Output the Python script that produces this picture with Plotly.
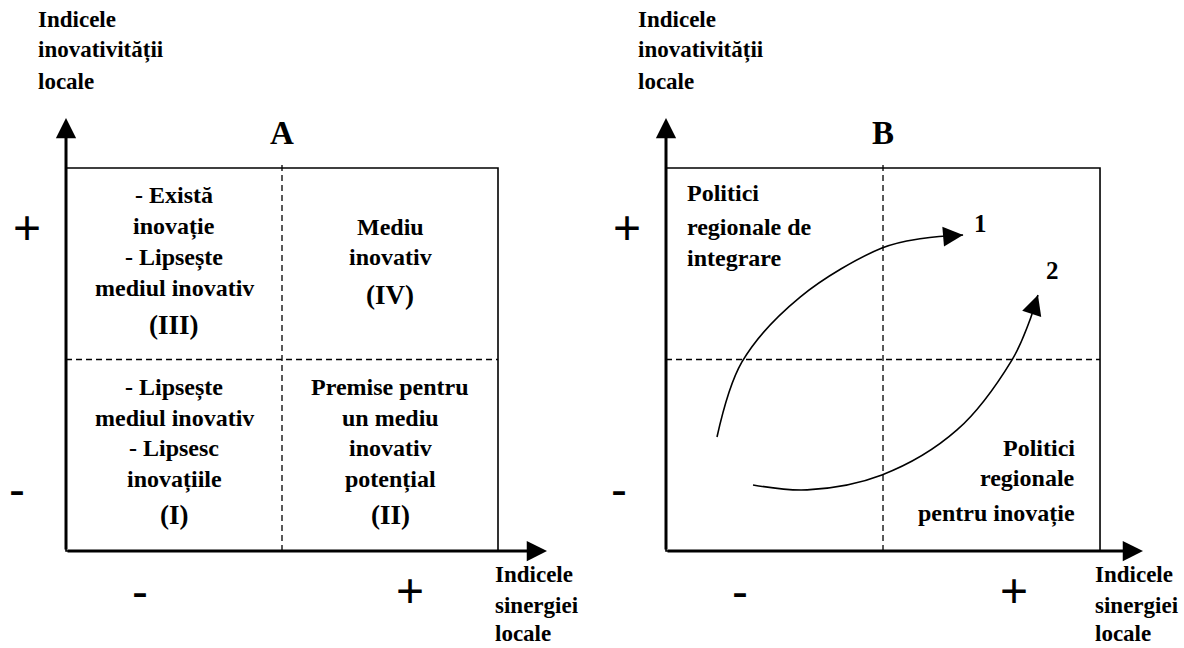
import plotly.graph_objects as go

# ---------------- data ----------------
panel_titles = ["A", "B"]
y_axis_title = ["Indicele", "inovativității", "locale"]
x_axis_title = ["Indicele", "sinergiei", "locale"]
y_signs = ["+", "-"]
x_signs = ["-", "+"]
quad_III = ["- Există", "inovație", "- Lipsește", "mediul inovativ", "(III)"]
quad_IV = ["Mediu", "inovativ", "(IV)"]
quad_I = ["- Lipsește", "mediul inovativ", "- Lipsesc", "inovațiile", "(I)"]
quad_II = ["Premise pentru", "un mediu", "inovativ", "potențial", "(II)"]
policy_integration = ["Politici", "regionale de", "integrare"]
policy_innovation = ["Politici", "regionale", "pentru inovație"]
path_labels = ["1", "2"]
# trajectories in panel B (quadrant units, box = 0..2)
path1_x = [0.235, 0.350, 0.618, 0.995, 1.180, 1.369]
path1_y = [0.595, 0.987, 1.326, 1.582, 1.632, 1.650]
path2_x = [0.401, 0.650, 0.995, 1.341, 1.594, 1.670, 1.714]
path2_y = [0.345, 0.319, 0.397, 0.632, 0.997, 1.185, 1.337]

# ---------------- layout constants ----------------
FONT = "Liberation Serif, Times New Roman, serif"
SIGN_FONT = "Liberation Sans, Arial, sans-serif"
XA = ("x", "y")
XB = ("x2", "y2")

fig = go.Figure()

# invisible anchors so both subplots exist
for xr, yr in (XA, XB):
    fig.add_trace(go.Scatter(x=[0, 2], y=[0, 2], mode="markers", marker=dict(opacity=0),
                             xaxis=xr, yaxis=yr, hoverinfo="skip", showlegend=False))

def txt(refs, x, y, text, size, xanchor="center", bold=True, family=FONT):
    fig.add_annotation(x=x, y=y, xref=refs[0], yref=refs[1], text=text, showarrow=False,
                       xanchor=xanchor, yanchor="middle",
                       font=dict(family=family, size=size, color="black",
                                 weight="bold" if bold else "normal"))

def arrow(refs, tail, tip, width, size, head=2):
    fig.add_annotation(x=tip[0], y=tip[1], ax=tail[0], ay=tail[1],
                       xref=refs[0], yref=refs[1], axref=refs[0], ayref=refs[1],
                       text="", showarrow=True, arrowhead=head, arrowsize=size,
                       arrowwidth=width, arrowcolor="black", standoff=0, startstandoff=0)

for refs, xtip, title, ytitle_x, xtitle_x in ((XA, 2.227, panel_titles[0], -0.139, 1.977),
                                              (XB, 2.198, panel_titles[1], -0.138, 1.968)):
    # frame
    fig.add_shape(type="rect", x0=0, y0=0, x1=2, y1=2, xref=refs[0], yref=refs[1],
                  line=dict(color="black", width=1.6))
    # dashed quadrant dividers
    fig.add_shape(type="line", x0=1, y0=0, x1=1, y1=2.03, xref=refs[0], yref=refs[1],
                  line=dict(color="black", width=1.3, dash="6px,4px"))
    fig.add_shape(type="line", x0=0, y0=1, x1=2, y1=1, xref=refs[0], yref=refs[1],
                  line=dict(color="black", width=1.3, dash="6px,4px"))
    # axes with arrows
    arrow(refs, (0, 0), (0, 2.261), 3, 1.35, head=2)
    arrow(refs, (0, 0), (xtip, 0), 3, 1.35, head=2)
    # panel title
    txt(refs, 1.0, 2.183, title, 33)
    # axis titles
    for t, yy in zip(y_axis_title, [2.773, 2.616, 2.449]):
        txt(refs, ytitle_x, yy, t, 23, xanchor="left")
    for t, yy in zip(x_axis_title, [-0.125, -0.282, -0.432]):
        txt(refs, xtitle_x, yy, t, 23, xanchor="left")
    # signs
    sx = -0.181 if refs == XA else -0.180
    sxm = -0.227 if refs == XA else -0.217
    txt(refs, sx, 1.687, y_signs[0], 48, bold=False, family=SIGN_FONT)
    txt(refs, sxm, 0.319, y_signs[1], 48, bold=False, family=SIGN_FONT)
    bx = (0.343, 1.593) if refs == XA else (0.341, 1.604)
    txt(refs, bx[0], -0.214, x_signs[0], 48, bold=False, family=SIGN_FONT)
    txt(refs, bx[1], -0.204, x_signs[1], 48, bold=False, family=SIGN_FONT)

# ---- panel A quadrant texts ----
def block(refs, lines, x, ys, xanchor="center", last_size=None, size=24):
    for i, (t, yy) in enumerate(zip(lines, ys)):
        s = last_size if (last_size and i == len(lines) - 1) else size
        txt(refs, x, yy, t, s, xanchor=xanchor)

block(XA, quad_III, 0.5, [1.859, 1.692, 1.535, 1.373, 1.180], last_size=27)
block(XA, quad_IV, 1.5, [1.692, 1.535, 1.337], last_size=27)
block(XA, quad_I, 0.5, [0.856, 0.695, 0.538, 0.371, 0.188], last_size=27)
block(XA, quad_II, 1.5, [0.856, 0.695, 0.538, 0.371, 0.188], last_size=27)

# ---- panel B ----
block(XB, policy_integration, 0.0876, [1.869, 1.692, 1.530], xanchor="left")
block(XB, policy_innovation, 1.894, [0.538, 0.381, 0.198], xanchor="right")

for px, py in ((path1_x, path1_y), (path2_x, path2_y)):
    fig.add_trace(go.Scatter(x=px, y=py, mode="lines", xaxis="x2", yaxis="y2",
                             line=dict(color="black", width=1.6, shape="spline", smoothing=1.0),
                             hoverinfo="skip", showlegend=False))
    # short arrow segment along the end tangent, so only the head shows
    tail = (px[-1] + 0.25 * (px[-2] - px[-1]), py[-1] + 0.25 * (py[-2] - py[-1]))
    arrow(XB, tail, (px[-1], py[-1]), 1.6, 2.5, head=2)

txt(XB, 1.447, 1.708, path_labels[0], 25)
txt(XB, 1.779, 1.467, path_labels[1], 25)

axis_common = dict(visible=False, fixedrange=True)
fig.update_layout(
    width=1184, height=648,
    margin=dict(l=0, r=0, t=0, b=0),
    paper_bgcolor="white", plot_bgcolor="white",
    xaxis=dict(domain=[0, 0.5], range=[-0.3056, 2.4352], anchor="y", **axis_common),
    yaxis=dict(domain=[0, 1], range=[-0.5065, 2.877], anchor="x", **axis_common),
    xaxis2=dict(domain=[0.5, 1], range=[-0.341, 2.387], anchor="y2", **axis_common),
    yaxis2=dict(domain=[0, 1], range=[-0.5065, 2.877], anchor="x2", **axis_common),
    showlegend=False,
)

fig.write_html("out.html", config={"displayModeBar": False},
               post_script="document.body.style.margin='0';document.body.style.overflow='hidden';")
